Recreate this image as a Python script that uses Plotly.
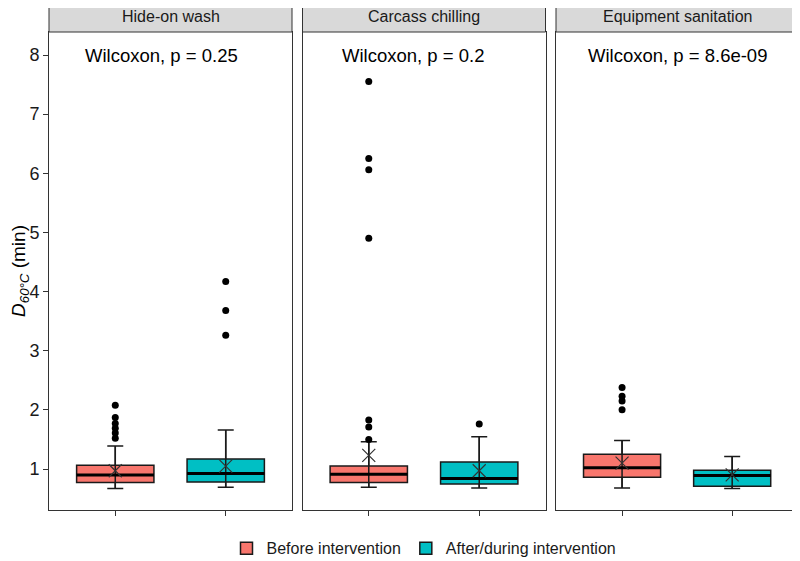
import plotly.graph_objects as go
from plotly.subplots import make_subplots

facets = ["Hide-on wash", "Carcass chilling", "Equipment sanitation"]
groups = ["Before intervention", "After/during intervention"]
pvalue_labels = ["Wilcoxon, p = 0.25", "Wilcoxon, p = 0.2", "Wilcoxon, p = 8.6e-09"]
pvalue_y = 8
yticks = [1, 2, 3, 4, 5, 6, 7, 8]

before_q1 = [0.77, 0.77, 0.86]
before_median = [0.90, 0.91, 1.02]
before_q3 = [1.065, 1.05, 1.25]
before_lower = [0.67, 0.69, 0.68]
before_upper = [1.39, 1.46, 1.48]
before_mean = [0.97, 1.23, 1.10]
before_outliers = [[1.52, 1.61, 1.69, 1.77, 1.87, 2.08],
                   [1.50, 1.71, 1.83, 4.90, 6.06, 6.25, 7.55],
                   [2.00, 2.15, 2.23, 2.38]]

after_q1 = [0.78, 0.745, 0.71]
after_median = [0.925, 0.84, 0.89]
after_q3 = [1.17, 1.12, 0.98]
after_lower = [0.69, 0.68, 0.67]
after_upper = [1.66, 1.545, 1.21]
after_mean = [1.05, 0.97, 0.90]
after_outliers = [[3.26, 3.68, 4.17], [1.76], []]

colors = ["#F8766D", "#00BFC4"]
BOXW = 0.7
FONT = "Liberation Sans, Arial, sans-serif"

stats = [
    dict(q1=before_q1, med=before_median, q3=before_q3, lo=before_lower, hi=before_upper,
         mean=before_mean, out=before_outliers),
    dict(q1=after_q1, med=after_median, q3=after_q3, lo=after_lower, hi=after_upper,
         mean=after_mean, out=after_outliers),
]

fig = make_subplots(rows=1, cols=3, shared_yaxes=True, horizontal_spacing=0.014)

for p in range(3):
    col = p + 1
    for g in range(2):
        s = stats[g]
        xpos = g + 1
        fig.add_trace(go.Box(
            x=[xpos], q1=[s["q1"][p]], median=[s["med"][p]], q3=[s["q3"][p]],
            lowerfence=[s["lo"][p]], upperfence=[s["hi"][p]],
            width=BOXW, whiskerwidth=0, fillcolor=colors[g],
            line=dict(color="#1a1a1a", width=1.5), boxpoints=False,
            name=groups[g], legendgroup=groups[g], showlegend=(p == 0),
            hoverinfo="skip"), row=1, col=col)
        # errorbar (whisker line through box with caps)
        fig.add_trace(go.Scatter(
            x=[xpos], y=[s["med"][p]], mode="markers",
            marker=dict(size=1, opacity=0),
            error_y=dict(type="data", symmetric=False,
                         array=[s["hi"][p] - s["med"][p]],
                         arrayminus=[s["med"][p] - s["lo"][p]],
                         color="#1a1a1a", thickness=1.5, width=8),
            showlegend=False, hoverinfo="skip"), row=1, col=col)
        # thick median line
        fig.add_trace(go.Scatter(
            x=[xpos - BOXW / 2, xpos + BOXW / 2], y=[s["med"][p], s["med"][p]],
            mode="lines", line=dict(color="#000000", width=3),
            showlegend=False, hoverinfo="skip"), row=1, col=col)
        # mean marker
        fig.add_trace(go.Scatter(
            x=[xpos], y=[s["mean"][p]], mode="markers",
            marker=dict(symbol="x-thin-open", size=13, color="#333333",
                        line=dict(color="#333333", width=1.2)),
            showlegend=False, hoverinfo="skip"), row=1, col=col)
        # outliers
        if s["out"][p]:
            fig.add_trace(go.Scatter(
                x=[xpos] * len(s["out"][p]), y=s["out"][p], mode="markers",
                marker=dict(symbol="circle", size=7, color="#000000"),
                showlegend=False, hoverinfo="skip"), row=1, col=col)

label_x = [1.42, 1.40, 1.50]
for p in range(3):
    xref = "x" if p == 0 else f"x{p+1}"
    yref = "y" if p == 0 else f"y{p+1}"
    fig.add_annotation(x=label_x[p], y=pvalue_y, xref=xref, yref=yref, text=pvalue_labels[p],
                       showarrow=False, xanchor="center", yanchor="middle",
                       font=dict(family=FONT, size=18.5, color="#000000"))

domains = [[0.0, 0.324], [0.338, 0.662], [0.676, 0.999]]
strip_h = 31 / 478
for p in range(3):
    d = domains[p]
    fig.add_shape(type="rect", xref="paper", yref="paper", x0=d[0], x1=d[1], y0=1.0, y1=1.0 + strip_h,
                  fillcolor="#D9D9D9", line=dict(color="#333333", width=1), layer="above")
    fig.add_annotation(x=(d[0] + d[1]) / 2, y=1.0 + strip_h / 2, xref="paper", yref="paper",
                       text=facets[p], showarrow=False, xanchor="center", yanchor="middle",
                       font=dict(family=FONT, size=16, color="#1a1a1a"))

axis_common = dict(showline=True, mirror=True, linecolor="#333333", linewidth=1,
                   showgrid=False, zeroline=False, automargin=False)
for p in range(3):
    xa = "xaxis" if p == 0 else f"xaxis{p+1}"
    ya = "yaxis" if p == 0 else f"yaxis{p+1}"
    fig.layout[xa].update(domain=domains[p], range=[0.4, 2.6], tickvals=[1, 2],
                          ticks="outside", ticklen=5, tickcolor="#333333",
                          showticklabels=False, **axis_common)
    fig.layout[ya].update(range=[0.307, 8.389], **axis_common)
    if p == 0:
        fig.layout[ya].update(tickvals=yticks, ticks="outside", ticklen=5, tickcolor="#333333",
                              tickfont=dict(family=FONT, size=18, color="#1a1a1a"),
                              title=dict(text="<i>D</i><sub><i>60°C</i></sub> (min)",
                                         font=dict(family=FONT, size=19, color="#000000"),
                                         standoff=5))
    else:
        fig.layout[ya].update(ticks="", showticklabels=False)

fig.update_layout(
    width=792, height=553,
    margin=dict(l=41, r=1, t=24, b=51, autoexpand=False),
    plot_bgcolor="white", paper_bgcolor="white",
    boxmode="overlay",
    legend=dict(orientation="h", x=0.5, xanchor="center", y=-0.08, yanchor="middle",
                font=dict(family=FONT, size=16, color="#1a1a1a"), itemwidth=30),
    font=dict(family=FONT),
)

fig.write_html("out.html")
